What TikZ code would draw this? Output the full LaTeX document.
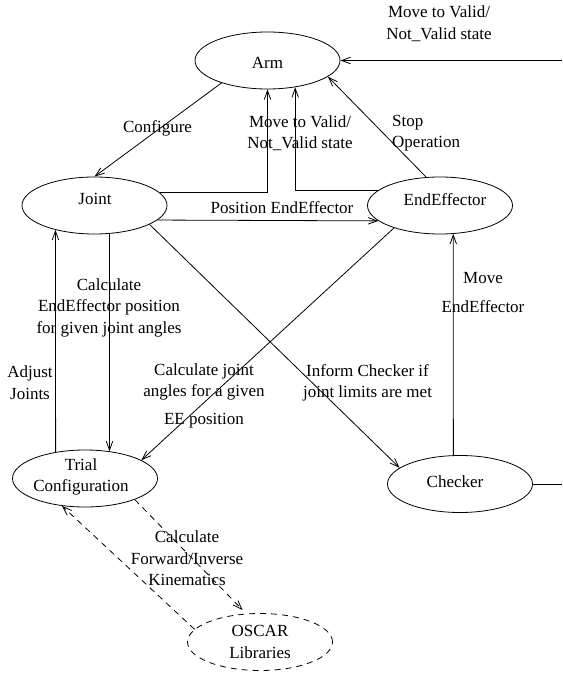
\documentclass[tikz,border=0pt]{standalone}
\usepackage{fontspec}
\setmainfont{Liberation Serif}
\usetikzlibrary{shapes.geometric,arrows.meta}
\begin{document}
\begin{tikzpicture}[x=1pt,y=-1pt,
  txt/.style={font=\fontsize{17}{21.5}\selectfont},
  state/.style={ellipse, draw, line width=0.8pt, minimum width=145pt,
    minimum height=57pt, inner sep=0pt},
  lab/.style={txt, inner sep=0pt, align=center},
  link/.style={line width=0.8pt},
  flow/.style={link, -{Straight Barb[length=9pt,width=6.5pt]}},
  dashflow/.style={flow, dash pattern=on 6pt off 5pt}]
\useasboundingbox (0,0) rectangle (562,684);

% states
\node[state] (arm) at (267.5,60.5) {};
\node[state] (joint) at (94.5,205.5) {};
\node[state] (ee) at (440,205.5) {};
\node[state] (trial) at (85,478.5) {};
\node[state] (checker) at (460,484) {};
\node[state, dash pattern=on 6pt off 5pt] (oscar) at (260,642) {};

% state names
\node[lab] (tarm) at (267.5,62.5) {Arm};
\node[lab] (tjoint) at (95,199) {Joint};
\node[lab] (tee) at (445,200) {EndEffector};
\node[lab] (ttrial) at (81,477) {Trial\\Configuration};
\node[lab] (tchecker) at (455,482) {Checker};
\node[lab] (toscar) at (260,642) {OSCAR\\Libraries};

% loose ends at the right border
\coordinate (inR) at (562,60.5);
\coordinate (outR) at (562,484);

% transitions
\draw[flow] (inR) -- (arm.east);
\draw[flow] (arm.206) -- (joint.north);
\draw[flow] (joint.11) -| (arm.south);
\draw[flow] (ee.166) -| (arm.-44);
\draw[flow] (ee.116.6) -- (arm.-15);
\draw[flow] (joint.-13) -- (ee.194);
\draw[flow] (joint.-62.5) -- (trial.48);
\draw[flow] (trial.138) -- (joint.212);
\draw[flow] (ee.206) -- (trial.18);
\draw[flow] (joint.-19) -- (checker.165);
\draw[flow] (checker.103.6) -- (ee.-65.1);
\draw[link] (checker.east) -- (outR);
\draw[dashflow, shorten >=5pt] (trial.-23) -- (oscar.116);
\draw[dashflow] (oscar.169) -- (trial.230);

% labels
\node[lab] (lmoveR) at (439,24) {Move to Valid/\\[0.5pt]Not\_Valid state};
\node[lab] (lconf) at (157.5,128) {Configure};
\node[lab] (lmoveM) at (300,133) {Move to Valid/\\Not\_Valid state};
\node[lab, anchor=west, align=left] (lstop) at (392,133) {Stop\\Operation};
\node[lab] (lpos) at (282,208) {Position EndEffector};
\node[lab] (lcalcEE) at (109,307.5) {Calculate\\EndEffector position\\for given joint angles};
\node[lab] (lmove) at (483,292.5) {Move\\[7.5pt]EndEffector};
\node[lab] (ladj) at (30,382.5) {Adjust\\Joints};
\node[lab] (lcalcJ) at (204,396) {Calculate joint\\angles for a given\\[6.5pt]EE position};
\node[lab] (linf) at (367.5,383) {Inform Checker if\\joint limits are met};
\node[lab] (lkin) at (187,558.5) {Calculate\\Forward/Inverse\\Kinematics};
\end{tikzpicture}
\end{document}
